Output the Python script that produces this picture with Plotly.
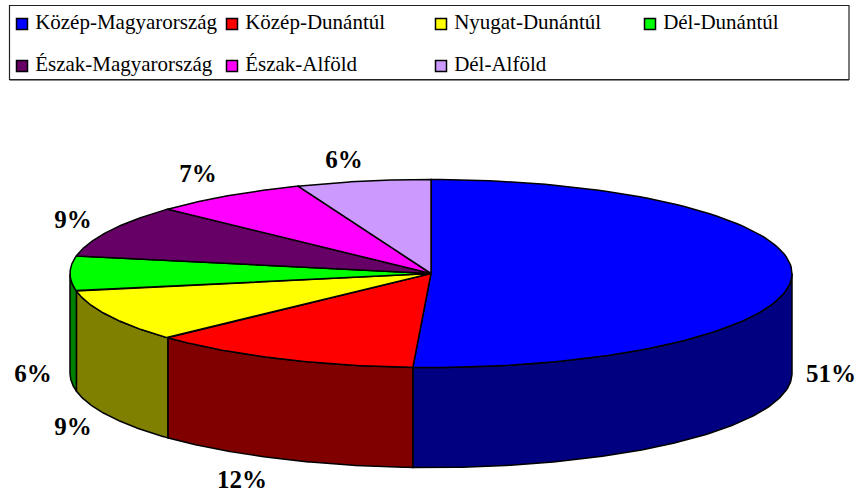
import numpy as np
import plotly.graph_objects as go

regions = ["Közép-Magyarország", "Közép-Dunántúl", "Nyugat-Dunántúl", "Dél-Dunántúl",
           "Észak-Magyarország", "Észak-Alföld", "Dél-Alföld"]
shares = [50.8, 12.2, 9, 6, 9, 7, 6]

top_colors = ["#0000FF", "#FF0000", "#FFFF00", "#00FF00", "#660066", "#FF00FF", "#CC99FF"]
wall_colors = ["#000080", "#800000", "#808000", "#008000", "#330033", "#800080", "#664C80"]

# drawing frame: pixel-like axes, and the projection of the pie
CX, CY, RX, RY, DEPTH = 431, 273.5, 361, 94, 100
SERIF = "Liberation Serif, Times New Roman, serif"
label_xy = [(831, 376), (242, 482), (73, 429), (33, 376), (73, 222), (198, 176), (344, 162)]
legend_cols = [22, 232, 441, 650]
legend_rows = [24, 66]


def rim(t0, t1, n=120):
    t = np.radians(np.linspace(t0, t1, n))
    return CX + RX * np.sin(t), CY - RY * np.cos(t)


fig = go.Figure()
edges = np.cumsum([0] + shares) * 360 / sum(shares)

# visible outer walls (lower half of the rim only)
for i in range(len(shares)):
    a0, a1 = max(edges[i], 90), min(edges[i + 1], 270)
    if a1 <= a0:
        continue
    x, y = rim(a0, a1)
    fig.add_trace(go.Scatter(
        x=np.r_[x, x[::-1], x[0]], y=np.r_[y, y[::-1] + DEPTH, y[0]],
        mode="lines", fill="toself", fillcolor=wall_colors[i],
        line=dict(color="black", width=1.5), showlegend=False, hoverinfo="skip"))

# top faces
for i in range(len(shares)):
    x, y = rim(edges[i], edges[i + 1])
    fig.add_trace(go.Scatter(
        x=np.r_[CX, x, CX], y=np.r_[CY, y, CY],
        mode="lines", fill="toself", fillcolor=top_colors[i],
        line=dict(color="black", width=1.5), showlegend=False, hoverinfo="skip"))

# percentage labels
fig.add_trace(go.Scatter(
    x=[p[0] for p in label_xy], y=[p[1] for p in label_xy],
    text=[f"{round(v)}%" for v in shares], mode="text", textposition="middle center",
    textfont=dict(family=SERIF, size=25, color="black", weight="bold"),
    showlegend=False, hoverinfo="skip", cliponaxis=False))

# legend entries
for i, name in enumerate(regions):
    row = 0 if i < 4 else 1
    col = i if i < 4 else i - 4
    fig.add_trace(go.Scatter(
        x=[legend_cols[col]], y=[legend_rows[row]], text=[" " + name],
        mode="markers+text", textposition="middle right",
        marker=dict(symbol="square", size=11, color=top_colors[i],
                    line=dict(color="black", width=1.5)),
        textfont=dict(family=SERIF, size=21, color="black"),
        showlegend=False, hoverinfo="skip"))

fig.add_shape(type="line", x0=9.5, y0=80.5, x1=849, y1=80.5,
              line=dict(color="#888888", width=1))
fig.add_shape(type="rect", x0=9.5, y0=5.5, x1=849, y1=79.5,
              line=dict(color="#222222", width=1.2), fillcolor="rgba(0,0,0,0)")

fig.update_layout(
    width=856, height=495, margin=dict(l=0, r=0, t=0, b=0),
    paper_bgcolor="white", plot_bgcolor="white", showlegend=False,
    xaxis=dict(range=[0, 856], visible=False, fixedrange=True),
    yaxis=dict(range=[495, 0], visible=False, fixedrange=True),
)
fig.write_html("out.html", config={"displayModeBar": False},
               post_script="document.body.style.margin='0';document.body.style.overflow='hidden';")
